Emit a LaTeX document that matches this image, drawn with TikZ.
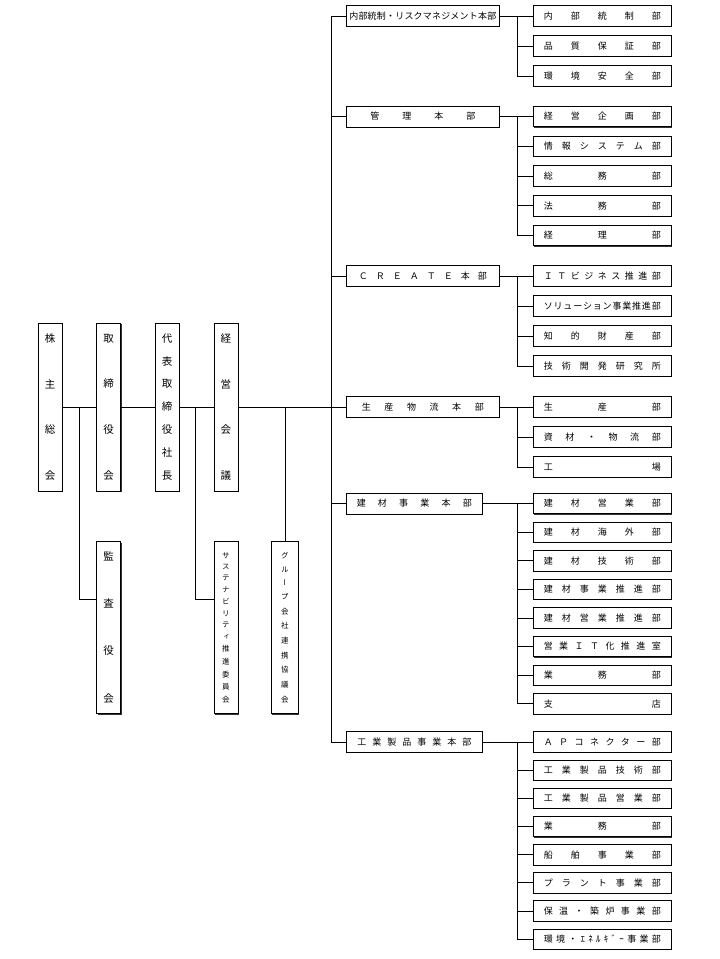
\documentclass[tikz,border=0pt]{standalone}
\usepackage{fontspec}
\setmainfont{Noto Sans CJK JP}
\newfontfamily\tatefont[RawFeature=+vert]{Noto Sans CJK JP}
\usetikzlibrary{positioning,shadows}

% characters spread over a fixed width
\newcommand\spreadtxt[2]{\makebox[#1][s]{\expandafter\spreadfirst#2\relax}}
\def\spreadfirst#1{#1\spreadrest}
\def\spreadrest#1{\ifx\relax#1\else\hfill#1\expandafter\spreadrest\fi}
% characters stacked over a fixed height
\newcommand\vspread[2]{\vbox to #1{\offinterlineskip\tatefont\expandafter\vsfirst#2\relax}}
\def\vsfirst#1{\hbox to 12pt{\hss#1\hss}\vsrest}
\def\vsrest#1{\ifx\relax#1\else\vfill\hbox to 12pt{\hss#1\hss}\expandafter\vsrest\fi}

\begin{document}
\begin{tikzpicture}[x=1pt,y=-1pt,line width=0.8pt,
  box/.style={draw,fill=white,line width=0.6pt,inner sep=0pt,
    drop shadow={shadow xshift=0.9pt,shadow yshift=-0.9pt,fill=black!80,opacity=1}},
  vcol/.style={box,minimum width=24pt,minimum height=168pt,font=\fontsize{10.5pt}{12pt}\selectfont},
  sect/.style={box,anchor=west,minimum width=153pt,minimum height=21pt,font=\fontsize{9pt}{10pt}\selectfont},
  dept/.style={box,anchor=west,minimum width=138pt,minimum height=20.5pt,font=\fontsize{9pt}{10pt}\selectfont}]
\useasboundingbox (0,0) rectangle (720,959);
\coordinate (spine) at (331,0);
\coordinate (sub) at (517,0);

% left side
\node[vcol] (kabu) at (50,407) {\vspread{145pt}{株主総会}};
\node[vcol] (tori) [right=34pt of kabu] {\vspread{145pt}{取締役会}};
\node[vcol] (shacho) [right=34pt of tori] {\vspread{145pt}{代表取締役社長}};
\node[vcol] (keiei) [right=34pt of shacho] {\vspread{145pt}{経営会議}};
\node[vcol,minimum height=172pt] (kansa) [below=50pt of tori] {\vspread{150pt}{監査役会}};
\node[vcol,minimum height=172pt,font=\fontsize{7.5pt}{8pt}\selectfont] (susta) [below=50pt of keiei] {\vspread{150pt}{サステナビリティ推進委員会}};
\node[vcol,minimum height=172pt,minimum width=27pt,font=\fontsize{7.5pt}{8pt}\selectfont] (group) [right=33pt of susta] {\vspread{150pt}{グループ会社連携協議会}};

% headquarters
\node[sect] (hq1) at (346,16) {\spreadtxt{147pt}{内部統制・リスクマネジメント本部}};
\node[sect] (hq2) at (346,116.5) {\spreadtxt{105pt}{管理本部}};
\node[sect] (hq3) at (346,276) {\spreadtxt{128pt}{ＣＲＥＡＴＥ本部}};
\node[sect] (hq4) at (346,407) {\spreadtxt{122pt}{生産物流本部}};
\node[sect,minimum width=136pt] (hq5) at (346,503.5) {\spreadtxt{115pt}{建材事業本部}};
\node[sect,minimum width=136pt] (hq6) at (346,742) {\spreadtxt{114pt}{工業製品事業本部}};

% departments
\foreach \t [count=\i] in {内部統制部,品質保証部,環境安全部}
  \node[dept] (a\i) at (533,{16+30*(\i-1)}) {\spreadtxt{117pt}{\t}};
\foreach \t [count=\i] in {経営企画部,情報システム部,総務部,法務部,経理部}
  \node[dept] (b\i) at (533,{116.5+29.75*(\i-1)}) {\spreadtxt{117pt}{\t}};
\foreach \t [count=\i] in {ＩＴビジネス推進部,ソリューション事業推進部,知的財産部,技術開発研究所}
  \node[dept] (c\i) at (533,{276+30*(\i-1)}) {\spreadtxt{117pt}{\t}};
\foreach \t [count=\i] in {生産部,資材・物流部,工場}
  \node[dept] (d\i) at (533,{407+30*(\i-1)}) {\spreadtxt{117pt}{\t}};
\foreach \t [count=\i] in {建材営業部,建材海外部,建材技術部,建材事業推進部,建材営業推進部,営業ＩＴ化推進室,業務部,支店}
  \node[dept] (e\i) at (533,{503.5+28.6*(\i-1)}) {\spreadtxt{117pt}{\t}};
\foreach \t [count=\i] in {ＡＰコネクター部,工業製品技術部,工業製品営業部,業務部,船舶事業部,プラント事業部,保温・築炉事業部,環境・ｴﾈﾙｷﾞｰ事業部}
  \node[dept] (f\i) at (533,{742+28.15*(\i-1)}) {\spreadtxt{117pt}{\t}};

% connectors, left side
\draw (kabu.east) -- (tori.west);
\draw (tori.east) -- (shacho.west);
\draw (shacho.east) -- (keiei.west);
\draw (kabu.east) ++(17,0) |- ([yshift=28pt]kansa.west);
\draw (shacho.east) ++(16,0) |- ([yshift=28pt]susta.west);
\draw (keiei.east) -- (spine |- keiei.east);
\draw (group.north) -- (group.north |- keiei.east);

% connectors, right side
\draw (spine |- hq1.west) -- (spine |- hq6.west);
\foreach \h in {1,...,6}
  \draw (spine |- hq\h.west) -- (hq\h.west);
\draw (hq1.east) -- (sub |- hq1.east) |- (a3.west);
\foreach \i in {1,2} \draw (sub |- a\i.west) -- (a\i.west);
\draw (hq2.east) -- (sub |- hq2.east) |- (b5.west);
\foreach \i in {1,...,4} \draw (sub |- b\i.west) -- (b\i.west);
\draw (hq3.east) -- (sub |- hq3.east) |- (c4.west);
\foreach \i in {1,...,3} \draw (sub |- c\i.west) -- (c\i.west);
\draw (hq4.east) -- (sub |- hq4.east) |- (d3.west);
\foreach \i in {1,2} \draw (sub |- d\i.west) -- (d\i.west);
\draw (hq5.east) -- (sub |- hq5.east) |- (e8.west);
\foreach \i in {1,...,7} \draw (sub |- e\i.west) -- (e\i.west);
\draw (hq6.east) -- (sub |- hq6.east) |- (f8.west);
\foreach \i in {1,...,7} \draw (sub |- f\i.west) -- (f\i.west);
\end{tikzpicture}
\end{document}
